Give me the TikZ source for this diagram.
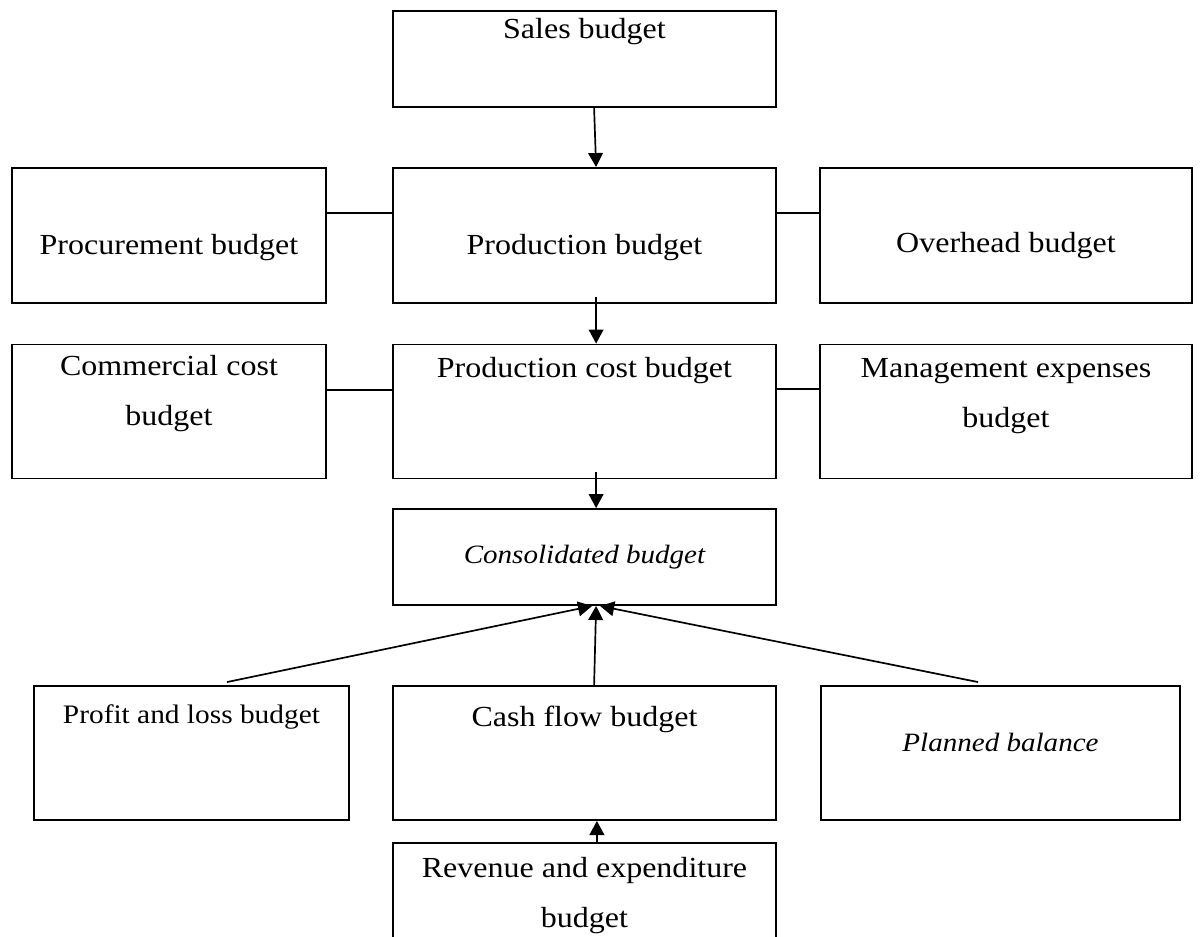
\documentclass[tikz,border=0pt]{standalone}
\usepackage{fontspec}
\setmainfont{Liberation Serif}[FakeStretch=1.1]
\usetikzlibrary{arrows.meta,positioning,calc}

\tikzset{
  box/.style={draw=black,line width=1.35pt,minimum width=9.575cm,minimum height=3.375cm,inner sep=0pt},
  txt/.style={inner sep=0pt,anchor=base,align=center,font=\fontsize{20.7}{34.9}\selectfont},
  txts/.style={inner sep=0pt,anchor=base,align=center,font=\fontsize{18.8}{30}\selectfont\itshape},
  link/.style={draw=black,line width=1.2pt},
  flow/.style={link,-{Triangle[length=10pt,width=10.5pt]}}
}

\begin{document}
\begin{tikzpicture}[x=1cm,y=1cm]
    \useasboundingbox (0,0) rectangle (30,-23.4);
    % boxes
    \node[box,minimum height=2.4cm] (sales) at (14.6125,-1.475) {};
    \node[box,minimum width=7.85cm] (proc) at (4.225,-5.8875) {};
    \node[box] (prod) at (14.6125,-5.8875) {};
    \node[box,minimum width=9.3cm] (over) at (25.15,-5.8875) {};
    \node[box,minimum width=7.85cm,minimum height=3.35cm] (comm) at (4.225,-10.2875) {};
    \node[box,minimum height=3.35cm] (pcost) at (14.6125,-10.2875) {};
    \node[box,minimum width=9.3cm,minimum height=3.35cm] (mgmt) at (25.15,-10.2875) {};
    \node[box,minimum height=2.4cm] (cons) at (14.6125,-13.925) {};
    \node[box,minimum width=7.875cm,minimum height=3.35cm] (profit) at (4.7875,-18.825) {};
    \node[box,minimum height=3.35cm] (cash) at (14.6125,-18.825) {};
    \node[box,minimum width=8.975cm,minimum height=3.35cm] (plan) at (25.0125,-18.825) {};
    \node[box,minimum height=2.925cm] (rev) at (14.6125,-22.5375) {};
    % texts
    \node[txt] (sales-t) at (14.6125,-0.95) {Sales budget};
    \node[txt] (proc-t) at (4.225,-6.35) {Procurement budget};
    \node[txt] (prod-t) at (14.6125,-6.35) {Production budget};
    \node[txt] (over-t) at (25.15,-6.3) {Overhead budget};
    \node[txt] (comm-t) at (4.225,-10.625) {Commercial cost\\budget};
    \node[txt] (pcost-t) at (14.6125,-9.425) {Production cost budget};
    \node[txt] (mgmt-t) at (25.15,-10.675) {Management expenses\\budget};
    \node[txts] (cons-t) at (14.6125,-14.075) {Consolidated budget};
    \node[txts,font=\fontsize{19}{30}\selectfont] (profit-t) at (4.7875,-18.075) {Profit and loss budget};
    \node[txt] (cash-t) at (14.6125,-18.15) {Cash flow budget};
    \node[txts] (plan-t) at (25.0125,-18.775) {Planned balance};
    \node[txt] (rev-t) at (14.6125,-23.175) {Revenue and expenditure\\budget};
    % connectors
    \draw[flow] ([xshift=0.24cm]sales.south) -- ([xshift=0.29cm]prod.north);
    \draw[link] ([yshift=0.5625cm]proc.east) -- ([yshift=0.5625cm]prod.west);
    \draw[link] ([yshift=0.5625cm]prod.east) -- ([yshift=0.5625cm]over.west);
    \draw[flow] ([xshift=0.29cm,yshift=0.175cm]prod.south) -- ([xshift=0.29cm]pcost.north);
    \draw[link] ([yshift=0.54cm]comm.east) -- ([yshift=0.54cm]pcost.west);
    \draw[link] ([yshift=0.56cm]pcost.east) -- ([yshift=0.56cm]mgmt.west);
    \draw[flow] ([xshift=0.29cm,yshift=0.175cm]pcost.south) -- ([xshift=0.29cm]cons.north);
    \draw[flow] ([xshift=0.8875cm,yshift=0.075cm]profit.north) -- ([xshift=0.19cm]cons.south);
    \draw[flow] ([xshift=0.24cm]cash.north) -- ([xshift=0.29cm]cons.south);
    \draw[flow] ([xshift=-0.5625cm,yshift=0.075cm]plan.north) -- ([xshift=0.39cm]cons.south);
    \draw[flow] ([xshift=0.31cm,yshift=-0.05cm]rev.north) -- ([xshift=0.31cm]cash.south);
\end{tikzpicture}
\end{document}
